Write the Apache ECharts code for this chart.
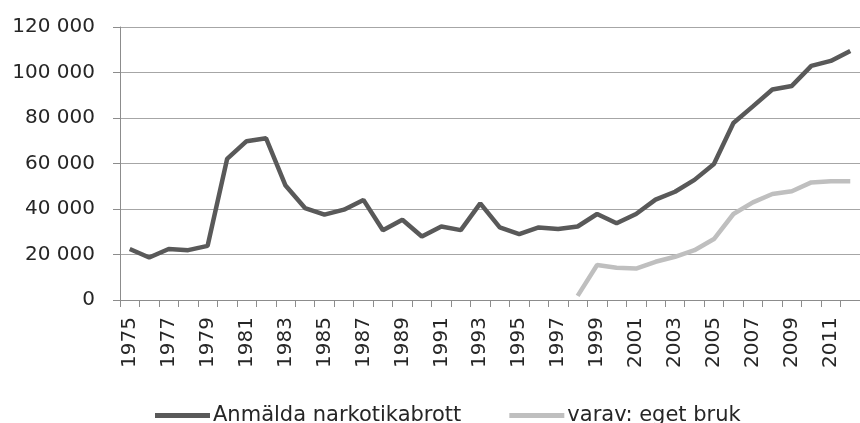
<!DOCTYPE html>
<html>
<head>
<meta charset="utf-8">
<script src="https://cdn.jsdelivr.net/npm/echarts@6/dist/echarts.min.js"></script>
<style>
  html, body { margin: 0; padding: 0; background: #fff; }
  #main { width: 860px; height: 423px; }
</style>
</head>
<body>
<div id="main"></div>
<script>
  var years = [];
  for (var y = 1975; y <= 2012; y++) { years.push(String(y)); }

  // Anmälda narkotikabrott, 1975-2012
  var anmalda = [22400, 18700, 22400, 21900, 23800, 62000, 69800, 71100, 50300, 40400,
                 37500, 39700, 44000, 30700, 35300, 27900, 32300, 30700, 42500, 31900,
                 29000, 31900, 31200, 32300, 37800, 33700, 37800, 44100, 47600, 52800,
                 59800, 77800, 85100, 92500, 94100, 102900, 105100, 109500];

  // varav: eget bruk, from 1998
  var egetBruk = [null, null, null, null, null, null, null, null, null, null,
                  null, null, null, null, null, null, null, null, null, null,
                  null, null, null, 1800, 15400, 14200, 13800, 16800, 19000, 21900,
                  26800, 37800, 42900, 46600, 47800, 51700, 52200, 52200];

  var seriesNames = ['Anmälda narkotikabrott', 'varav: eget bruk'];

  var myChart = echarts.init(document.getElementById('main'));

  function spaced(v) {
    return String(v).replace(/\B(?=(\d{3})+(?!\d))/g, ' ');
  }

  myChart.setOption({
    backgroundColor: '#fff',
    animation: false,
    textStyle: { fontFamily: 'DejaVu Sans' },
    grid: { left: 120, right: -9, top: 27, bottom: 123 },
    legend: {
      left: 150,
      top: 400,
      icon: 'rect',
      itemWidth: 55,
      itemHeight: 5,
      itemGap: 48,
      textStyle: { fontSize: 21, color: '#262626', fontFamily: 'DejaVu Sans', padding: [0, 0, 0, -2] },
      data: seriesNames
    },
    xAxis: {
      type: 'category',
      data: years,
      boundaryGap: true,
      axisLine: { lineStyle: { color: '#8c8c8c', width: 1 } },
      axisTick: { show: true, interval: 0, length: 7, lineStyle: { color: '#8c8c8c' } },
      axisLabel: { interval: 1, rotate: 90, margin: 17, fontSize: 20, color: '#262626' },
      splitLine: { show: false }
    },
    yAxis: {
      type: 'value',
      min: 0,
      max: 120000,
      interval: 20000,
      axisLine: { show: true, lineStyle: { color: '#8c8c8c', width: 1 } },
      axisTick: { show: true, length: 7, lineStyle: { color: '#8c8c8c' } },
      axisLabel: { margin: 25, fontSize: 20, color: '#262626', formatter: spaced },
      splitLine: { lineStyle: { color: '#a6a6a6', width: 1 } }
    },
    series: [{
      name: seriesNames[0],
      type: 'line',
      data: anmalda,
      symbol: 'none',
      itemStyle: { color: '#595959' },
      lineStyle: { color: '#595959', width: 4.5 }
    }, {
      name: seriesNames[1],
      type: 'line',
      data: egetBruk,
      symbol: 'none',
      itemStyle: { color: '#bfbfbf' },
      lineStyle: { color: '#bfbfbf', width: 4.5 }
    }]
  });
</script>
</body>
</html>
